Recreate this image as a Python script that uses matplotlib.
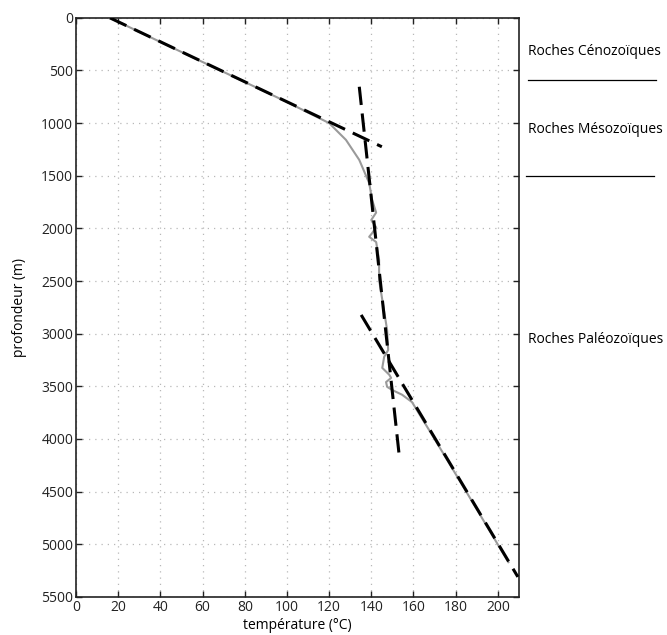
import matplotlib.pyplot as plt

plt.rcParams['font.family'] = ['Open Sans', 'DejaVu Sans']

# measured temperature profile (gray curve)
profile_temp = [16, 40, 60, 80, 100, 115, 120, 128, 134.3, 139, 140.4, 142.3, 140, 142.3,
                140.4, 139, 142.3, 143.7, 143.7, 147.5, 148, 146.1, 145.2, 148.5, 149.4,
                147, 147.5, 149.9, 154.6, 159.3, 170, 185, 205]
profile_depth = [0, 230, 420, 610, 800, 950, 1000, 1160, 1350, 1570, 1730, 1850, 1920, 1990,
                 2045, 2080, 2130, 2300, 2490, 2965, 3155, 3220, 3325, 3390, 3420,
                 3460, 3505, 3535, 3580, 3650, 4000, 4500, 5170]

# fitted gradients (dashed lines)
grad_temp = [[16, 145], [134.3, 153.2], [135.2, 209.5]]
grad_depth = [[0, 1225], [655, 4150], [2822, 5310]]

# rock units on the right
unit_names = ['Roches Cénozoïques', 'Roches Mésozoïques', 'Roches Paléozoïques']
unit_label_depth = [320, 1065, 3060]
unit_boundaries = [590, 1500]

yticks = list(range(0, 5501, 500))
xticks = list(range(0, 201, 20))

fig = plt.figure(figsize=(6.67, 6.35), dpi=100)
ax = fig.add_axes([0.114, 0.06, 0.664, 0.912])

ax.plot(profile_temp, profile_depth, color='#9a9a9a', lw=1.5, zorder=3)
for t, d in zip(grad_temp, grad_depth):
    ax.plot(t, d, color='black', lw=2.2, ls=(0, (6, 2.8)), zorder=4)

ax.set_xlim(0, 210)
ax.set_ylim(5500, 0)
ax.set_xticks(xticks)
ax.set_yticks(yticks)
ax.tick_params(direction='in', top=True, right=True, length=4, width=1, labelsize=10,
               colors='#222222', pad=2)
ax.grid(True, color='#b8b8b8', ls=(0, (1, 4)), lw=0.9)
for s in ax.spines.values():
    s.set_linewidth(1.2)
    s.set_color('#222222')

ax.set_xlabel('température (°C)', fontsize=10)
ax.xaxis.set_label_coords(0.5, -0.037)
ax.set_ylabel('profondeur (m)', fontsize=10)
ax.yaxis.set_label_coords(-0.11, 0.5)

trans = ax.get_yaxis_transform()
for name, d in zip(unit_names, unit_label_depth):
    ax.text(1.02, d, name, transform=trans, fontsize=10, va='center', ha='left',
            clip_on=False)
ax.plot([1.02, 1.31], [unit_boundaries[0]] * 2, transform=trans, color='black',
        lw=0.9, clip_on=False)
ax.plot([1.015, 1.305], [unit_boundaries[1]] * 2, transform=trans, color='black',
        lw=0.9, clip_on=False)

fig.savefig('out.png', dpi=100)
